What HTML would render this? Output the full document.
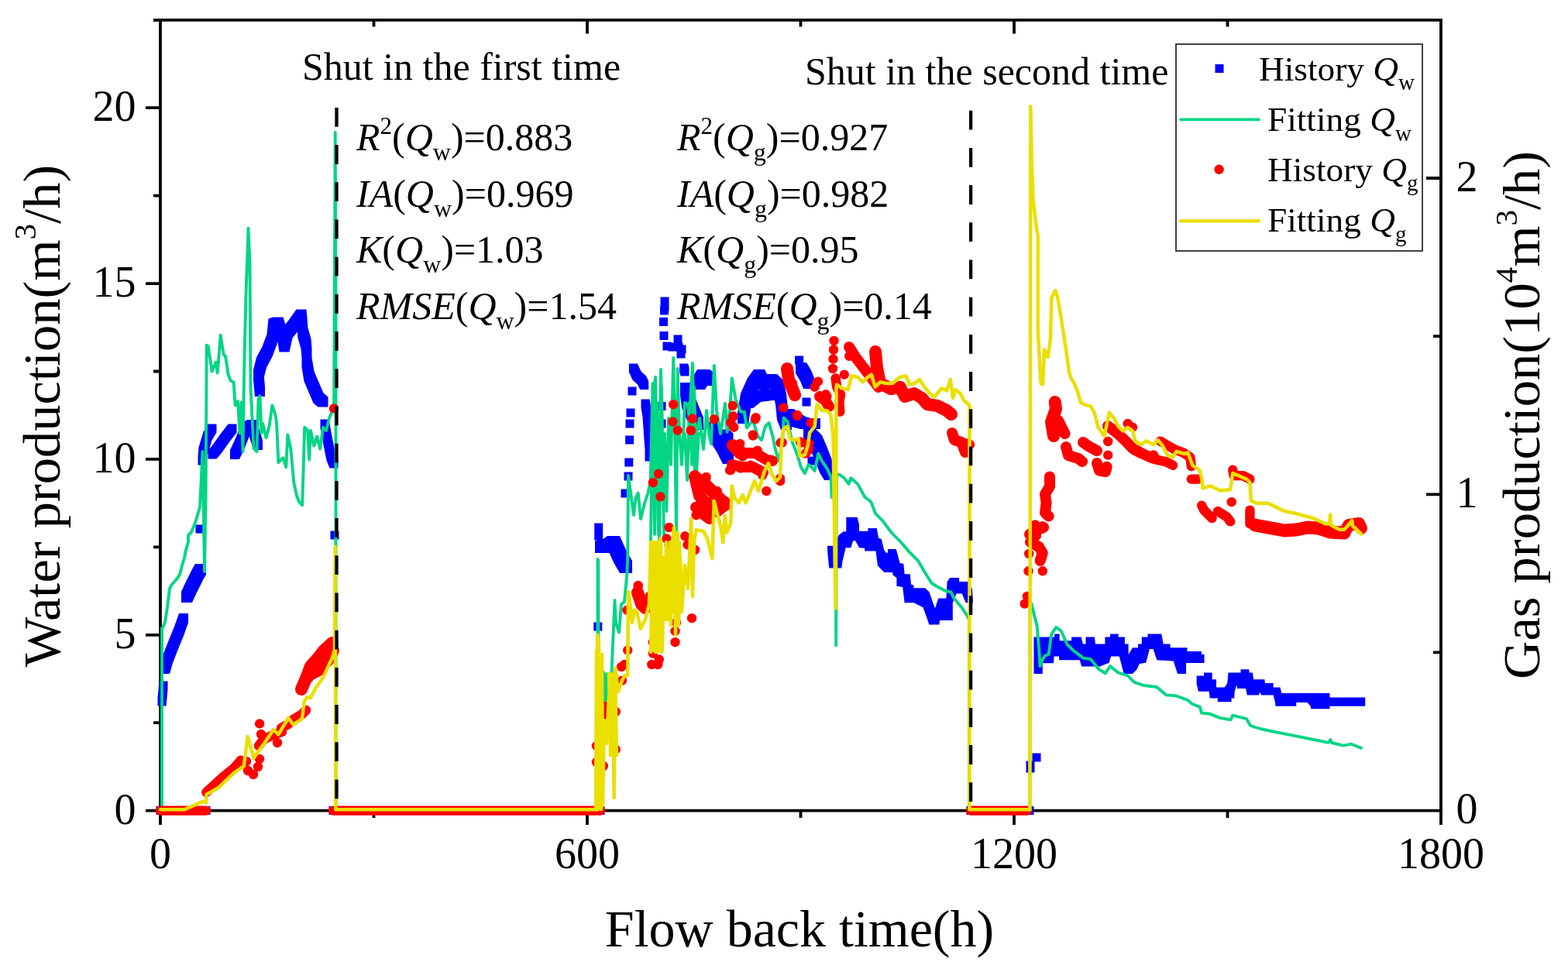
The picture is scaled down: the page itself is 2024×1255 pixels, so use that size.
<!DOCTYPE html>
<html><head><meta charset="utf-8"><title>Flow back chart</title>
<style>html,body{margin:0;padding:0;background:#fff;overflow:hidden}svg{display:block}</style>
</head><body>
<svg width="2024" height="1255" viewBox="0 0 2024 1255"><rect width="2024" height="1255" fill="#fff"/><path d="M198,25.8 H1860 V1046.6 H207 V25.8" fill="none" stroke="#000" stroke-width="3.8" stroke-linejoin="miter"/><path d="M188,1046.6 H207 M198,933.2 H207 M188,819.8 H207 M198,706.3 H207 M188,592.9 H207 M198,479.5 H207 M188,366.1 H207 M198,252.6 H207 M188,139.2 H207 M198,25.8 H207 M207.0,1046.6 V1065 M482.5,1046.6 V1056 M758.0,1046.6 V1065 M1033.5,1046.6 V1056 M1309.0,1046.6 V1065 M1584.5,1046.6 V1056 M1860.0,1046.6 V1065 M482.5,25.8 V34.5 M758.0,25.8 V43.4 M1033.5,25.8 V34.5 M1309.0,25.8 V43.4 M1584.5,25.8 V34.5 M1860,842.4 H1850 M1860,638.3 H1841 M1860,434.1 H1850 M1860,230.0 H1841" fill="none" stroke="#000" stroke-width="3.8"/><path fill="#0000ff" d="M201.5,1041.1 271.5,1041.1 271.5,1052.1 201.5,1052.1ZM424.5,1041.1 780.5,1041.1 780.5,1052.1 424.5,1052.1ZM1247.5,1041.1 1334.5,1041.1 1334.5,1052.1 1247.5,1052.1ZM203.5,900.5 205.5,879.5 216.5,879.5 216.5,890.5 214.5,911.5 203.5,911.5ZM207,858 211,844 223,844 223,856 219,870 207,870ZM211,844 218,826 230,826 230,838 223,856 211,856ZM218,826 225,809 237,809 237,821 230,838 218,838ZM225,809 231,792 243,792 243,804 237,821 225,821ZM234,764 239,753 253,753 253,767 248,778 234,778ZM239,753 244,743 258,743 258,757 253,767 239,767ZM244,743 249,733 263,733 263,747 258,757 244,757ZM249,733 252,728 266,728 266,742 263,747 249,747ZM255.5,589.5 256.5,577.5 267.5,577.5 267.5,588.5 266.5,600.5 255.5,600.5ZM256.5,577.5 262.5,557.5 273.5,557.5 273.5,568.5 267.5,588.5 256.5,588.5ZM262.5,557.5 268.5,547.5 279.5,547.5 279.5,558.5 273.5,568.5 262.5,568.5ZM268.5,581.5 274.5,574.5 285.5,574.5 285.5,585.5 279.5,592.5 268.5,592.5ZM274.5,574.5 284.5,560.5 295.5,560.5 295.5,571.5 285.5,585.5 274.5,585.5ZM284.5,560.5 294.5,547.5 305.5,547.5 305.5,558.5 295.5,571.5 284.5,571.5ZM297,581 304,566 316,566 316,578 309,593 297,593ZM304,566 312,546 324,546 324,558 316,578 304,578ZM312,546 319,542 331,542 331,554 324,558 312,558ZM319,542 331,542 339,569 339,581 327,581 319,554ZM327,477.5 340,477.5 342,499 342,512 329,512 327,490.5ZM327,477.5 331,461.5 344,461.5 344,474.5 340,490.5 327,490.5ZM331,461.5 338.5,447.5 351.5,447.5 351.5,460.5 344,474.5 331,474.5ZM338.5,447.5 344.5,431.5 357.5,431.5 357.5,444.5 351.5,460.5 338.5,460.5ZM344.5,431.5 346.5,411.5 359.5,411.5 359.5,424.5 357.5,444.5 344.5,444.5ZM346.5,411.5 352.5,409.5 365.5,409.5 365.5,422.5 359.5,424.5 346.5,424.5ZM352.5,409.5 365.5,409.5 371.5,429.5 371.5,442.5 358.5,442.5 352.5,422.5ZM358.5,429.5 371.5,429.5 373.5,441.5 373.5,454.5 360.5,454.5 358.5,442.5ZM360.5,441.5 364.5,423.5 377.5,423.5 377.5,436.5 373.5,454.5 360.5,454.5ZM364.5,423.5 372.5,413.5 385.5,413.5 385.5,426.5 377.5,436.5 364.5,436.5ZM372.5,413.5 382.5,399.5 395.5,399.5 395.5,412.5 385.5,426.5 372.5,426.5ZM382.5,399.5 395.5,399.5 397.5,423.5 397.5,436.5 384.5,436.5 382.5,412.5ZM384.5,423.5 397.5,423.5 401.5,437.5 401.5,450.5 388.5,450.5 384.5,436.5ZM388.5,437.5 401.5,437.5 402.5,449.5 402.5,462.5 389.5,462.5 388.5,450.5ZM389.5,449.5 402.5,449.5 402.5,474.5 389.5,474.5ZM389.5,461.5 402.5,461.5 405.5,479.5 405.5,492.5 392.5,492.5 389.5,474.5ZM392.5,479.5 405.5,479.5 411.5,493.5 411.5,506.5 398.5,506.5 392.5,492.5ZM398.5,493.5 411.5,493.5 417.5,507.5 417.5,520.5 404.5,520.5 398.5,506.5ZM404.5,507.5 417.5,507.5 423.5,512.5 423.5,525.5 410.5,525.5 404.5,520.5ZM413.5,541.5 424.5,541.5 428.5,563.5 428.5,574.5 417.5,574.5 413.5,552.5ZM417.5,563.5 428.5,563.5 432.5,583.5 432.5,594.5 421.5,594.5 417.5,574.5ZM421.5,583.5 432.5,583.5 436.5,593.5 436.5,604.5 425.5,604.5 421.5,594.5ZM767.2,675.5 778.2,675.5 778.2,697.5 767.2,697.5ZM768,698 777,697 793,697 793,713 784,714 768,714ZM777,697 784,692 800,692 800,708 793,713 777,713ZM784,692 800,692 808,710 808,726 792,726 784,708ZM792,710 808,710 816,724 816,740 800,740 792,726ZM811.9,469.5 822.9,469.5 827.5,479.5 827.5,490.5 816.5,490.5 811.9,480.5ZM816.5,479.5 827.5,479.5 834,485.5 834,496.5 823,496.5 816.5,490.5ZM823,485.5 834,485.5 837.2,492 837.2,503 826.2,503 823,496.5ZM827.5,515.5 838.5,515.5 840.5,527.5 840.5,538.5 829.5,538.5 827.5,526.5ZM829.5,527.5 840.5,527.5 842,550.5 842,561.5 831,561.5 829.5,538.5ZM831,550.5 842,550.5 843.5,569.5 843.5,580.5 832.5,580.5 831,561.5ZM832.5,569.5 843.5,569.5 843.5,595.5 832.5,595.5ZM877.2,469.5 888.2,469.5 889.5,474.5 889.5,485.5 878.5,485.5 877.2,480.5ZM894,487 900,477 916,477 916,493 910,503 894,503ZM900,477 916,477 923,482 923,498 907,498 900,493ZM878,494 894,494 896,510 896,526 880,526 878,510ZM880,510 896,510 903,527 903,543 887,543 880,526ZM887,527 903,527 908,539 908,555 892,555 887,543ZM913,545 927,545 932,558 932,572 918,572 913,559ZM918,558 932,558 940,571 940,585 926,585 918,572ZM926,571 940,571 947,585 947,599 933,599 926,585ZM929.5,554.5 940.5,554.5 946.5,559.5 946.5,570.5 935.5,570.5 929.5,565.5ZM952,533 956,508 970,508 970,522 966,547 952,547ZM956,508 965,488 979,488 979,502 970,522 956,522ZM965,488 973,477 987,477 987,491 979,502 965,502ZM973,477 987,477 993,489 993,503 979,503 973,491ZM979,489 989,483 1003,483 1003,497 993,503 979,503ZM989,483 1003,483 1011,491 1011,505 997,505 989,497ZM997,491 1011,491 1015,508 1015,522 1001,522 997,505ZM1001,508 1015,508 1017,528 1017,542 1003,542 1001,522ZM1003,528 1017,528 1022,541 1022,555 1008,555 1003,542ZM958,513 968,505 982,505 982,519 972,527 958,527ZM968,505 983,503 997,503 997,517 982,519 968,519ZM983,503 1007,503 1007,517 983,517ZM1027,468 1041,468 1047,478 1047,492 1033,492 1027,482ZM1033,478 1047,478 1051,488 1051,502 1037,502 1033,492ZM1011,528 1025,528 1036,537 1036,551 1022,551 1011,542ZM1022,537 1036,537 1047,540 1047,554 1033,554 1022,551ZM1033,540 1059,540 1059,554 1033,554ZM1005,528 1019,528 1032,533 1032,547 1018,547 1005,542ZM1018,533 1032,533 1040,538 1040,552 1026,552 1018,547ZM1037,554 1053,554 1061,562 1061,578 1045,578 1037,570ZM1045,562 1061,562 1067,576 1067,592 1051,592 1045,578ZM1051,576 1067,576 1074,594 1074,610 1058,610 1051,592ZM1058,594 1074,594 1080,604 1080,620 1064,620 1058,610ZM1334.5,822.5 1345.5,822.5 1345.5,867.5 1334.5,867.5ZM852.5,383.5 h11 v11 h-11ZM852.5,390.5 h11 v11 h-11ZM852,395.5 h11 v11 h-11ZM851,410 h11 v11 h-11ZM851.5,428 h11 v11 h-11ZM855.5,441.5 h11 v11 h-11ZM862.5,442.5 h11 v11 h-11ZM869.5,432.5 h11 v11 h-11ZM870.5,442.5 h11 v11 h-11ZM873.5,451.5 h11 v11 h-11ZM874.5,445.5 h11 v11 h-11ZM252.5,677.5 h11 v11 h-11ZM426.5,685.5 h11 v11 h-11ZM329.5,497.5 h11 v11 h-11ZM766.3,803.5 h11 v11 h-11ZM810.5,499.5 h11 v11 h-11ZM808.5,527.5 h11 v11 h-11ZM807.5,541.5 h11 v11 h-11ZM807.1,562.5 h11 v11 h-11ZM806.3,591.5 h11 v11 h-11ZM805.5,609.5 h11 v11 h-11ZM801.5,631.5 h11 v11 h-11ZM848.5,519.1 h11 v11 h-11ZM848.5,541.4 h11 v11 h-11ZM1026.1,459.5 h11 v11 h-11ZM1035.5,513.5 h11 v11 h-11ZM1042.5,589.5 h11 v11 h-11ZM1324.5,982.5 h11 v11 h-11ZM1332.5,972.5 h11 v11 h-11ZM1324.5,986.5 h11 v11 h-11ZM1094.5,669.1 h11 v11 h-11ZM1341,822.5 1361.2,822.5 1361.2,818.4 1367.7,818.4 1367.7,827.3 1383.1,827.3 1383.1,822.5 1395.6,822.5 1398,831.4 1401.5,831.4 1401.5,822.5 1412.8,822.5 1414,831.4 1426.4,831.4 1426.4,822.5 1433,822.5 1433,818.4 1443.6,818.4 1443.6,822.5 1451.9,822.5 1451.9,831.4 1456.6,831.4 1456.6,845 1462,836.2 1469,836.2 1469,831.4 1473.8,831.4 1473.8,822.5 1481.5,822.5 1481.5,818.4 1499.3,818.4 1501.7,831.4 1510.6,831.4 1510.6,836.2 1532.5,836.2 1532.5,841 1550.9,841 1550.9,845 1554.5,845 1554.5,855.7 1530.7,855.7 1530.7,870 1520,870 1514.7,853.4 1493.4,852.2 1488.6,838 1483.9,838 1479.2,855.7 1470.9,857 1467.3,864.6 1462,870 1450.7,870 1444.8,847.4 1434,847.4 1431.7,855.7 1419.9,860.5 1396.1,860.5 1393.8,852.2 1367.1,852.2 1367.1,847.4 1360.6,847.4 1360,856.3 1345.8,856.3 1345.8,870 1334.5,870 1334.5,845.7ZM1544.6,872.5 1554,872.5 1554,868.4 1564.7,868.4 1564.7,877.3 1570,877.3 1570,887.4 1580.7,887.4 1584.3,882 1585.5,868.4 1601.5,868.4 1601.5,864.2 1612.2,864.2 1612.8,868.4 1616.9,868.4 1618.1,877.3 1632.3,877.3 1633,882 1643.6,882 1643.6,887.4 1652.5,887.4 1654.3,895 1716.5,895 1716.5,900.4 1762.2,900.4 1762.2,911.7 1716.5,911.7 1716.5,915.2 1692.2,915.2 1691.6,911.7 1687.5,907 1673.2,907 1673.2,911.7 1646.5,911.7 1646,907 1643.6,897.4 1628.2,897.4 1625.8,893.3 1625.2,897.4 1609.8,897.4 1608,889 1597.3,889 1596.1,884.4 1593.8,892.7 1593.2,901.6 1589.6,901.6 1589.6,906.3 1571.8,906.3 1571.8,901.6 1561.8,901.6 1560.6,892.7 1546.9,892.7 1544.6,883.2ZM1525,850 1554.6,850 1554.6,856 1531,856 1531,869.6 1525,869.6ZM1067.8,704.8 1076.1,704.8 1082.7,691.1 1088.7,686.3 1092.3,686.3 1092.3,667.8 1106.6,667.8 1109,677.3 1109,685.7 1120.4,685.7 1120.4,682.1 1131.7,682.1 1134.1,694.7 1137.7,695.9 1141.3,710.2 1143.7,713.8 1146.1,713.8 1146.1,709 1156.8,709 1161.6,727 1166.4,728.1 1167.6,741.3 1174.8,741.3 1176,754.4 1179.5,755.6 1179.5,759.2 1193.9,759.2 1199.3,764 1203.5,776 1207,785.5 1211.2,772.4 1221.4,772.4 1222.6,750.9 1226.2,746.1 1238.1,746.1 1238.1,750.9 1250,750.9 1254.9,760.4 1256,778.3 1246.5,778.3 1241.7,766.4 1234.5,766.4 1229.8,778.3 1229.8,801 1213,801 1212.4,806.4 1199.3,806.4 1196.3,797.5 1191.5,784.3 1179.5,778.3 1167.6,778.3 1165.2,758 1157.4,756.8 1157.4,746.1 1152.6,742.5 1152,739 1141.3,739 1132.9,730.5 1130.5,711.4 1116.2,711.4 1116.2,707.8 1109,707.2 1104.2,698.3 1101.2,698.3 1098.3,707.2 1091.7,707.2 1087.5,724.6 1086.3,733.5 1070.2,733.5 1068.4,715Z"/><g fill="none" stroke="#03d585" stroke-width="3.9" stroke-linecap="round" stroke-linejoin="round"><polyline points="209,1046 209,811 210,810 213,803.6 216,783.7 219,759.8 221,755.8 228,747.8 232,741.8 235,730 238,720 240,710 243,700 243,691 247,687 252,675 258,655 261.5,583 264,738 265.7,630 266.7,445.7 268.7,447 273.7,479.6 278.7,467.6 280.7,481.6 284.7,432.8 288.6,457.7 291,460 294.6,483.6 297.6,491.5 301.6,493.5 303.6,523.4 307,518 309.6,559.3 311.6,519.4 313.5,583.2 315.5,459.7 317.5,380 320.5,294.8 322.5,340 323.5,499.5 327.5,579.2 331.5,583.2 333.5,515.5 335.5,511.5 337.5,559.3 339.4,547.3 343.4,565.3 347.4,551.3 351.4,523.4 355.4,535.4 357,545 359.4,597.1 365.3,591.2 369.3,603.1 371.3,561.3 375.3,579.2 379.3,623 383,640 386,648 390.2,652.3 393.2,551.7 397.2,555.7 399.2,593.5 401,556 405.2,575.6 409.2,563.7 413.1,579.6 417.1,551.7 421,556 425.1,539.8 429.1,529.8 431.1,525.8 432.7,170.8 433.5,400 433.5,1046"/><polyline points="771.5,1046 771.5,722 772.3,724 772.5,866 775,917 778,870 780.7,872 782,900 784,904 787,906 789,880 793.5,775 795,804 799,816.5 802,780 806,777 809.4,740 810.2,720 811,614 815.8,649 818,665 820.6,643 823.7,636.5 827,670 832,650 836.5,636.5 839.7,620.6 842,520 846,487 848,600 850,690 853,477 856,640 858,560 860.4,660 863,540 866,600 869.2,462 871,550 873,690 874.7,476 877,560 880,600 884,520 887.6,522 890,540 893.9,469 897,620 899,560 903,540 908,580 912,530 915,560 918,573 920,520 921.8,472 925,530 930,560 936,521 938.6,557.7 942,530 944.8,488.5 949.6,515.6 956,531.6 960.7,531.6 964,552.3 971.9,542.7 978.2,563.4 983,568.2 987.8,550.7 992.6,546 997.4,563.4 1000.6,579.4 1005.3,595.3 1010,571.4 1011.7,539.5 1016.5,544.3 1022.9,571.4 1029.2,587.3 1034,603.3 1038.8,611.2 1043.6,600.1 1046.6,602 1051.6,608 1056.3,585.7 1061,595.3 1067.5,604.9 1072.5,615.3 1073.5,642 1075,617 1078.5,612 1079.2,833.4 1079.8,612 1085,613.6 1089.7,617.2 1095.5,624.9 1098.4,617.2 1107,624.9 1116.5,642 1124.2,647.8 1130,663 1139.5,672.7 1151,688 1162.4,699.5 1174,712.9 1185.4,724.4 1193,737.7 1202.6,753 1212.2,758.8 1219.8,762.6 1227.5,764.5 1231.3,772.2 1240.9,783.7 1248.5,795.1 1251,800 1251,1046"/><polyline points="776,866 777,915 779,868 781,912 783,870 785,915 787,872 789,910"/><polyline points="840,700 842.5,495 845,690 848,520 851,700 854,500 857,690"/><polyline points="884,560 887,620 890,520 893,600 896,500 899,610 902,560"/><polyline points="1329.5,1046 1329.5,779 1331.4,779.5 1334.6,792.3 1338.6,808.2 1341,835.3 1342.6,860 1345.8,851.2 1349,846.5 1353.7,844.9 1357,819.4 1360.1,814.6 1363.3,809.8 1369.7,814.6 1377.6,832 1385.6,840 1392,844.9 1398.4,849.6 1408,851.2 1418.5,864.2 1426.8,869.4 1433,860 1443.3,868.4 1455.8,872.5 1464,880.8 1476.5,885 1493,887 1505.5,897.4 1518,898.4 1532.4,903.6 1539,909 1549,912.9 1551,920.5 1561.9,921.8 1574.6,926.9 1588.6,929.4 1591.2,923.7 1609,928.2 1614.1,937 1626.9,941 1638.4,943.5 1657.5,947.3 1676.6,951.1 1695.7,955 1714.9,958.8 1717.4,955 1719,959 1734,962.6 1744.2,960.7 1757,965.8"/></g><g fill="none" stroke="#ff0000" stroke-linecap="round" stroke-linejoin="round"><polyline stroke-width="12.4" points="207,1046.6 266,1046.6"/><polyline stroke-width="12.4" points="266.3,1023 276.5,1013.5 289.2,1002 302,991.8 310.9,981.6"/><polyline stroke-width="12.4" points="334,963 340,955 350,950 364,945"/><polyline stroke-width="12.4" points="363,940 372,935 380,928 390,922 395,917"/><polyline stroke-width="16" points="389,890 395,876 401,860 410,850 418,840 429,830"/><polyline stroke-width="14" points="392,882 400,872 412,866 425,852 431,840"/><polyline stroke-width="12.4" points="430,1046.6 775,1046.6"/><polyline stroke-width="12.4" points="1253,1046.6 1326,1046.6"/><polyline stroke-width="12.4" points="780,912 785,925 786,940"/><polyline stroke-width="14" points="779,916 789,914 788,938"/><polyline stroke-width="16" points="823,765 828,780 833,785"/><polyline stroke-width="16" points="946,575 955,585"/><polyline stroke-width="16" points="1016,476 1018,490 1022,500 1026,510"/><polyline stroke-width="14" points="1058,512 1066,518 1070,525"/><polyline stroke-width="16" points="900,618 910,625 920,635 930,645 937,650"/><polyline stroke-width="14" points="898,655 905,662 916,670"/><polyline stroke-width="16" points="897,615 903,640 912,652 925,660 935,652"/><polyline stroke-width="14" points="1096,448 1105,462 1115,475 1125,488 1134,500"/><polyline stroke-width="16" points="1130,454 1132,475 1136,495 1150,502 1162,500 1168,512 1180,508 1190,514 1197,522 1210,524 1222,530 1228,535"/><polyline stroke-width="14" points="1229,559 1232,568 1241,571 1246,584"/><polyline stroke-width="12.4" points="1241,571 1252,574"/><polyline stroke-width="12.4" points="1078.6,488.5 1080.2,499.7 1085,509.2 1083.4,518.8 1084.2,531.6"/><polyline stroke-width="14" points="950,578 960,585 975,585 990,594 997,595"/><polyline stroke-width="14" points="945,600 958,603 972,603 985,610"/><polyline stroke-width="16" points="1361.7,519 1363,528 1357,545 1360,563"/><polyline stroke-width="14" points="1366,543 1374.5,560"/><polyline stroke-width="14" points="1376,577 1379,588 1392,592 1397,596"/><polyline stroke-width="14" points="1398,571 1405,576 1416,582"/><polyline stroke-width="14" points="1416,598 1419,607.5 1427,609 1428.6,602.7"/><polyline stroke-width="14" points="1430,550 1443,560 1452.5,569 1462,579 1473,585 1484,590 1490,592"/><polyline stroke-width="14" points="1355,615.5 1355,628 1349,638 1350.6,649 1349,662 1353.7,666.5"/><polyline stroke-width="14" points="1329,690 1337,685 1347,681"/><polyline stroke-width="14" points="1330,700 1341,706 1345.8,714 1342.6,724"/><polyline stroke-width="12.4" points="1488.9,587.4 1491.9,593.4 1505.2,596.3 1514,600.8"/><polyline stroke-width="12.4" points="1497.8,569.6 1515.6,580 1527.4,584.5 1536.3,590.4 1537.8,602.2"/><polyline stroke-width="12.4" points="1537.8,618.6 1546.7,618.6"/><polyline stroke-width="12.4" points="1591.2,606.7 1592.6,614.1 1604.5,614.1 1613.4,618.6"/><polyline stroke-width="12.4" points="1551.1,652.6 1554.1,658.6 1564.5,669"/><polyline stroke-width="12.4" points="1571.9,660 1583.7,667.5 1588.2,673.4"/><polyline stroke-width="12.4" points="1613.4,658.6 1613.4,676.4"/><polyline stroke-width="17" points="1620,678 1636,681 1658,685 1673,684 1688,681 1702,682 1717,687 1735,688"/><polyline stroke-width="16" points="1735,688 1741,678 1754,676 1757,682"/></g><path fill="#ff0000" d="M1070.3,440 a6.2,6.2 0 1,0 12.4,0a6.2,6.2 0 1,0 -12.4,0ZM1069.8,451.5 a6.2,6.2 0 1,0 12.4,0a6.2,6.2 0 1,0 -12.4,0ZM1069.3,463.5 a6.2,6.2 0 1,0 12.4,0a6.2,6.2 0 1,0 -12.4,0ZM1068.8,476 a6.2,6.2 0 1,0 12.4,0a6.2,6.2 0 1,0 -12.4,0ZM298.8,990 a6.2,6.2 0 1,0 12.4,0a6.2,6.2 0 1,0 -12.4,0ZM305.8,985 a6.2,6.2 0 1,0 12.4,0a6.2,6.2 0 1,0 -12.4,0ZM313.8,995 a6.2,6.2 0 1,0 12.4,0a6.2,6.2 0 1,0 -12.4,0ZM320.8,1000 a6.2,6.2 0 1,0 12.4,0a6.2,6.2 0 1,0 -12.4,0ZM326.8,990 a6.2,6.2 0 1,0 12.4,0a6.2,6.2 0 1,0 -12.4,0ZM328.8,980 a6.2,6.2 0 1,0 12.4,0a6.2,6.2 0 1,0 -12.4,0ZM311.8,983 a6.2,6.2 0 1,0 12.4,0a6.2,6.2 0 1,0 -12.4,0ZM328.9,934.4 a6.2,6.2 0 1,0 12.4,0a6.2,6.2 0 1,0 -12.4,0ZM330.8,948 a6.2,6.2 0 1,0 12.4,0a6.2,6.2 0 1,0 -12.4,0ZM351.8,959 a6.2,6.2 0 1,0 12.4,0a6.2,6.2 0 1,0 -12.4,0ZM392.8,875 a6.2,6.2 0 1,0 12.4,0a6.2,6.2 0 1,0 -12.4,0ZM404.8,859 a6.2,6.2 0 1,0 12.4,0a6.2,6.2 0 1,0 -12.4,0ZM424.8,527.4 a6.2,6.2 0 1,0 12.4,0a6.2,6.2 0 1,0 -12.4,0ZM763.8,963 a6.2,6.2 0 1,0 12.4,0a6.2,6.2 0 1,0 -12.4,0ZM763.8,984 a6.2,6.2 0 1,0 12.4,0a6.2,6.2 0 1,0 -12.4,0ZM772.7,989 a6.2,6.2 0 1,0 12.4,0a6.2,6.2 0 1,0 -12.4,0ZM788.6,967.6 a6.2,6.2 0 1,0 12.4,0a6.2,6.2 0 1,0 -12.4,0ZM788.6,919 a6.2,6.2 0 1,0 12.4,0a6.2,6.2 0 1,0 -12.4,0ZM777.7,915.3 a6.2,6.2 0 1,0 12.4,0a6.2,6.2 0 1,0 -12.4,0ZM785.7,920 a6.2,6.2 0 1,0 12.4,0a6.2,6.2 0 1,0 -12.4,0ZM774.5,921.7 a6.2,6.2 0 1,0 12.4,0a6.2,6.2 0 1,0 -12.4,0ZM785.7,873.9 a6.2,6.2 0 1,0 12.4,0a6.2,6.2 0 1,0 -12.4,0ZM785.7,889.8 a6.2,6.2 0 1,0 12.4,0a6.2,6.2 0 1,0 -12.4,0ZM796.8,878.6 a6.2,6.2 0 1,0 12.4,0a6.2,6.2 0 1,0 -12.4,0ZM796,861 a6.2,6.2 0 1,0 12.4,0a6.2,6.2 0 1,0 -12.4,0ZM800,858 a6.2,6.2 0 1,0 12.4,0a6.2,6.2 0 1,0 -12.4,0ZM804,839.6 a6.2,6.2 0 1,0 12.4,0a6.2,6.2 0 1,0 -12.4,0ZM817.5,757.5 a6.2,6.2 0 1,0 12.4,0a6.2,6.2 0 1,0 -12.4,0ZM803.2,787.8 a6.2,6.2 0 1,0 12.4,0a6.2,6.2 0 1,0 -12.4,0ZM831.8,770.3 a6.2,6.2 0 1,0 12.4,0a6.2,6.2 0 1,0 -12.4,0ZM836.7,829.2 a6.2,6.2 0 1,0 12.4,0a6.2,6.2 0 1,0 -12.4,0ZM836.7,843.6 a6.2,6.2 0 1,0 12.4,0a6.2,6.2 0 1,0 -12.4,0ZM835.1,858 a6.2,6.2 0 1,0 12.4,0a6.2,6.2 0 1,0 -12.4,0ZM844.6,851.5 a6.2,6.2 0 1,0 12.4,0a6.2,6.2 0 1,0 -12.4,0ZM843,858 a6.2,6.2 0 1,0 12.4,0a6.2,6.2 0 1,0 -12.4,0ZM865.3,781.4 a6.2,6.2 0 1,0 12.4,0a6.2,6.2 0 1,0 -12.4,0ZM866.9,803.7 a6.2,6.2 0 1,0 12.4,0a6.2,6.2 0 1,0 -12.4,0ZM865.3,814.9 a6.2,6.2 0 1,0 12.4,0a6.2,6.2 0 1,0 -12.4,0ZM865.3,829.2 a6.2,6.2 0 1,0 12.4,0a6.2,6.2 0 1,0 -12.4,0ZM886.8,798.2 a6.2,6.2 0 1,0 12.4,0a6.2,6.2 0 1,0 -12.4,0ZM851,741.6 a6.2,6.2 0 1,0 12.4,0a6.2,6.2 0 1,0 -12.4,0ZM843.8,611.8 a6.2,6.2 0 1,0 12.4,0a6.2,6.2 0 1,0 -12.4,0ZM836.7,623 a6.2,6.2 0 1,0 12.4,0a6.2,6.2 0 1,0 -12.4,0ZM846.2,641.3 a6.2,6.2 0 1,0 12.4,0a6.2,6.2 0 1,0 -12.4,0ZM894,617.4 a6.2,6.2 0 1,0 12.4,0a6.2,6.2 0 1,0 -12.4,0ZM905.2,617.4 a6.2,6.2 0 1,0 12.4,0a6.2,6.2 0 1,0 -12.4,0ZM897.2,628.5 a6.2,6.2 0 1,0 12.4,0a6.2,6.2 0 1,0 -12.4,0ZM919.5,635 a6.2,6.2 0 1,0 12.4,0a6.2,6.2 0 1,0 -12.4,0ZM906.8,647.6 a6.2,6.2 0 1,0 12.4,0a6.2,6.2 0 1,0 -12.4,0ZM892.4,654 a6.2,6.2 0 1,0 12.4,0a6.2,6.2 0 1,0 -12.4,0ZM892.4,665.2 a6.2,6.2 0 1,0 12.4,0a6.2,6.2 0 1,0 -12.4,0ZM910,670 a6.2,6.2 0 1,0 12.4,0a6.2,6.2 0 1,0 -12.4,0ZM933.8,652.4 a6.2,6.2 0 1,0 12.4,0a6.2,6.2 0 1,0 -12.4,0ZM921.1,642.9 a6.2,6.2 0 1,0 12.4,0a6.2,6.2 0 1,0 -12.4,0ZM937.1,607 a6.2,6.2 0 1,0 12.4,0a6.2,6.2 0 1,0 -12.4,0ZM949.8,604.6 a6.2,6.2 0 1,0 12.4,0a6.2,6.2 0 1,0 -12.4,0ZM857.4,681 a6.2,6.2 0 1,0 12.4,0a6.2,6.2 0 1,0 -12.4,0ZM854.2,695.5 a6.2,6.2 0 1,0 12.4,0a6.2,6.2 0 1,0 -12.4,0ZM857.4,703.4 a6.2,6.2 0 1,0 12.4,0a6.2,6.2 0 1,0 -12.4,0ZM878.1,692.3 a6.2,6.2 0 1,0 12.4,0a6.2,6.2 0 1,0 -12.4,0ZM881.3,703.4 a6.2,6.2 0 1,0 12.4,0a6.2,6.2 0 1,0 -12.4,0ZM890.8,710 a6.2,6.2 0 1,0 12.4,0a6.2,6.2 0 1,0 -12.4,0ZM857.4,727.3 a6.2,6.2 0 1,0 12.4,0a6.2,6.2 0 1,0 -12.4,0ZM849.4,737 a6.2,6.2 0 1,0 12.4,0a6.2,6.2 0 1,0 -12.4,0ZM817.5,756 a6.2,6.2 0 1,0 12.4,0a6.2,6.2 0 1,0 -12.4,0ZM863,522.2 a6.2,6.2 0 1,0 12.4,0a6.2,6.2 0 1,0 -12.4,0ZM862.2,544.5 a6.2,6.2 0 1,0 12.4,0a6.2,6.2 0 1,0 -12.4,0ZM868.5,555.7 a6.2,6.2 0 1,0 12.4,0a6.2,6.2 0 1,0 -12.4,0ZM887.7,540.5 a6.2,6.2 0 1,0 12.4,0a6.2,6.2 0 1,0 -12.4,0ZM885.3,555.7 a6.2,6.2 0 1,0 12.4,0a6.2,6.2 0 1,0 -12.4,0ZM915.6,541.3 a6.2,6.2 0 1,0 12.4,0a6.2,6.2 0 1,0 -12.4,0ZM939.5,523.8 a6.2,6.2 0 1,0 12.4,0a6.2,6.2 0 1,0 -12.4,0ZM940.3,537.3 a6.2,6.2 0 1,0 12.4,0a6.2,6.2 0 1,0 -12.4,0ZM937.1,545.3 a6.2,6.2 0 1,0 12.4,0a6.2,6.2 0 1,0 -12.4,0ZM941.1,551.7 a6.2,6.2 0 1,0 12.4,0a6.2,6.2 0 1,0 -12.4,0ZM885.8,555.8 a6.2,6.2 0 1,0 12.4,0a6.2,6.2 0 1,0 -12.4,0ZM969.4,539.2 a6.2,6.2 0 1,0 12.4,0a6.2,6.2 0 1,0 -12.4,0ZM965.6,561.5 a6.2,6.2 0 1,0 12.4,0a6.2,6.2 0 1,0 -12.4,0ZM949,573 a6.2,6.2 0 1,0 12.4,0a6.2,6.2 0 1,0 -12.4,0ZM1010.8,476 a6.2,6.2 0 1,0 12.4,0a6.2,6.2 0 1,0 -12.4,0ZM1010.2,487.6 a6.2,6.2 0 1,0 12.4,0a6.2,6.2 0 1,0 -12.4,0ZM1011.5,496.5 a6.2,6.2 0 1,0 12.4,0a6.2,6.2 0 1,0 -12.4,0ZM1020.4,506.7 a6.2,6.2 0 1,0 12.4,0a6.2,6.2 0 1,0 -12.4,0ZM1019.1,511.8 a6.2,6.2 0 1,0 12.4,0a6.2,6.2 0 1,0 -12.4,0ZM1005.1,526.4 a6.2,6.2 0 1,0 12.4,0a6.2,6.2 0 1,0 -12.4,0ZM1022.8,536 a6.2,6.2 0 1,0 12.4,0a6.2,6.2 0 1,0 -12.4,0ZM1049.8,492.7 a6.2,6.2 0 1,0 12.4,0a6.2,6.2 0 1,0 -12.4,0ZM1052.3,511.8 a6.2,6.2 0 1,0 12.4,0a6.2,6.2 0 1,0 -12.4,0ZM1061.2,511.8 a6.2,6.2 0 1,0 12.4,0a6.2,6.2 0 1,0 -12.4,0ZM1042.1,546.2 a6.2,6.2 0 1,0 12.4,0a6.2,6.2 0 1,0 -12.4,0ZM1001.3,571.7 a6.2,6.2 0 1,0 12.4,0a6.2,6.2 0 1,0 -12.4,0ZM1026.8,570.4 a6.2,6.2 0 1,0 12.4,0a6.2,6.2 0 1,0 -12.4,0ZM1038.2,573 a6.2,6.2 0 1,0 12.4,0a6.2,6.2 0 1,0 -12.4,0ZM1123.4,453.5 a6.2,6.2 0 1,0 12.4,0a6.2,6.2 0 1,0 -12.4,0ZM1090,459.8 a6.2,6.2 0 1,0 12.4,0a6.2,6.2 0 1,0 -12.4,0ZM1083.6,483.7 a6.2,6.2 0 1,0 12.4,0a6.2,6.2 0 1,0 -12.4,0ZM1048.5,493.3 a6.2,6.2 0 1,0 12.4,0a6.2,6.2 0 1,0 -12.4,0ZM1045.4,499.7 a6.2,6.2 0 1,0 12.4,0a6.2,6.2 0 1,0 -12.4,0ZM1059.7,509.2 a6.2,6.2 0 1,0 12.4,0a6.2,6.2 0 1,0 -12.4,0ZM1061.3,520.4 a6.2,6.2 0 1,0 12.4,0a6.2,6.2 0 1,0 -12.4,0ZM1064.5,525.2 a6.2,6.2 0 1,0 12.4,0a6.2,6.2 0 1,0 -12.4,0ZM1023,537.1 a6.2,6.2 0 1,0 12.4,0a6.2,6.2 0 1,0 -12.4,0ZM1040.6,545.9 a6.2,6.2 0 1,0 12.4,0a6.2,6.2 0 1,0 -12.4,0ZM968.8,541 a6.2,6.2 0 1,0 12.4,0a6.2,6.2 0 1,0 -12.4,0ZM940.2,538 a6.2,6.2 0 1,0 12.4,0a6.2,6.2 0 1,0 -12.4,0ZM940.2,550.7 a6.2,6.2 0 1,0 12.4,0a6.2,6.2 0 1,0 -12.4,0ZM1002.3,571.4 a6.2,6.2 0 1,0 12.4,0a6.2,6.2 0 1,0 -12.4,0ZM1029.4,571.4 a6.2,6.2 0 1,0 12.4,0a6.2,6.2 0 1,0 -12.4,0ZM1037.4,581 a6.2,6.2 0 1,0 12.4,0a6.2,6.2 0 1,0 -12.4,0ZM1016.7,495 a6.2,6.2 0 1,0 12.4,0a6.2,6.2 0 1,0 -12.4,0ZM1018.3,509.2 a6.2,6.2 0 1,0 12.4,0a6.2,6.2 0 1,0 -12.4,0ZM1000.8,617.6 a6.2,6.2 0 1,0 12.4,0a6.2,6.2 0 1,0 -12.4,0ZM937,606.5 a6.2,6.2 0 1,0 12.4,0a6.2,6.2 0 1,0 -12.4,0ZM949.8,603.3 a6.2,6.2 0 1,0 12.4,0a6.2,6.2 0 1,0 -12.4,0ZM962.7,600.8 a6.2,6.2 0 1,0 12.4,0a6.2,6.2 0 1,0 -12.4,0ZM935.8,607.2 a6.2,6.2 0 1,0 12.4,0a6.2,6.2 0 1,0 -12.4,0ZM975.4,608.5 a6.2,6.2 0 1,0 12.4,0a6.2,6.2 0 1,0 -12.4,0ZM965.8,562.6 a6.2,6.2 0 1,0 12.4,0a6.2,6.2 0 1,0 -12.4,0ZM1003.5,571.5 a6.2,6.2 0 1,0 12.4,0a6.2,6.2 0 1,0 -12.4,0ZM1027.7,571.5 a6.2,6.2 0 1,0 12.4,0a6.2,6.2 0 1,0 -12.4,0ZM1037.8,579 a6.2,6.2 0 1,0 12.4,0a6.2,6.2 0 1,0 -12.4,0ZM1033.8,585.5 a6.2,6.2 0 1,0 12.4,0a6.2,6.2 0 1,0 -12.4,0ZM978,613.6 a6.2,6.2 0 1,0 12.4,0a6.2,6.2 0 1,0 -12.4,0ZM983.1,634 a6.2,6.2 0 1,0 12.4,0a6.2,6.2 0 1,0 -12.4,0ZM1000.8,621.2 a6.2,6.2 0 1,0 12.4,0a6.2,6.2 0 1,0 -12.4,0ZM905.3,616 a6.2,6.2 0 1,0 12.4,0a6.2,6.2 0 1,0 -12.4,0ZM901.5,623.8 a6.2,6.2 0 1,0 12.4,0a6.2,6.2 0 1,0 -12.4,0ZM919.3,634 a6.2,6.2 0 1,0 12.4,0a6.2,6.2 0 1,0 -12.4,0ZM906.6,648 a6.2,6.2 0 1,0 12.4,0a6.2,6.2 0 1,0 -12.4,0ZM923.1,641.6 a6.2,6.2 0 1,0 12.4,0a6.2,6.2 0 1,0 -12.4,0ZM930.8,649.3 a6.2,6.2 0 1,0 12.4,0a6.2,6.2 0 1,0 -12.4,0ZM910.4,669.7 a6.2,6.2 0 1,0 12.4,0a6.2,6.2 0 1,0 -12.4,0ZM895.1,655.6 a6.2,6.2 0 1,0 12.4,0a6.2,6.2 0 1,0 -12.4,0ZM947.4,576.6 a6.2,6.2 0 1,0 12.4,0a6.2,6.2 0 1,0 -12.4,0ZM952.5,589.3 a6.2,6.2 0 1,0 12.4,0a6.2,6.2 0 1,0 -12.4,0ZM971.6,581.7 a6.2,6.2 0 1,0 12.4,0a6.2,6.2 0 1,0 -12.4,0ZM1344.4,664.8 a6.2,6.2 0 1,0 12.4,0a6.2,6.2 0 1,0 -12.4,0ZM1330,677.5 a6.2,6.2 0 1,0 12.4,0a6.2,6.2 0 1,0 -12.4,0ZM1341.2,680.7 a6.2,6.2 0 1,0 12.4,0a6.2,6.2 0 1,0 -12.4,0ZM1323.6,690.3 a6.2,6.2 0 1,0 12.4,0a6.2,6.2 0 1,0 -12.4,0ZM1331.6,691.9 a6.2,6.2 0 1,0 12.4,0a6.2,6.2 0 1,0 -12.4,0ZM1323.6,699.8 a6.2,6.2 0 1,0 12.4,0a6.2,6.2 0 1,0 -12.4,0ZM1322,715 a6.2,6.2 0 1,0 12.4,0a6.2,6.2 0 1,0 -12.4,0ZM1321.3,737.3 a6.2,6.2 0 1,0 12.4,0a6.2,6.2 0 1,0 -12.4,0ZM1339.6,737.3 a6.2,6.2 0 1,0 12.4,0a6.2,6.2 0 1,0 -12.4,0ZM1319.7,770 a6.2,6.2 0 1,0 12.4,0a6.2,6.2 0 1,0 -12.4,0ZM1316.5,779.5 a6.2,6.2 0 1,0 12.4,0a6.2,6.2 0 1,0 -12.4,0ZM1424,570 a6.2,6.2 0 1,0 12.4,0a6.2,6.2 0 1,0 -12.4,0ZM1424,587.6 a6.2,6.2 0 1,0 12.4,0a6.2,6.2 0 1,0 -12.4,0ZM1449.5,547 a6.2,6.2 0 1,0 12.4,0a6.2,6.2 0 1,0 -12.4,0ZM1455.8,551.7 a6.2,6.2 0 1,0 12.4,0a6.2,6.2 0 1,0 -12.4,0ZM1330,677.6 a6.2,6.2 0 1,0 12.4,0a6.2,6.2 0 1,0 -12.4,0ZM1339.6,679.2 a6.2,6.2 0 1,0 12.4,0a6.2,6.2 0 1,0 -12.4,0ZM1583.5,648.2 a6.2,6.2 0 1,0 12.4,0a6.2,6.2 0 1,0 -12.4,0ZM1478.2,590 a6.2,6.2 0 1,0 12.4,0a6.2,6.2 0 1,0 -12.4,0Z"/><g fill="none" stroke="#eadf00" stroke-width="4.5" stroke-linecap="round" stroke-linejoin="round"><polyline points="207,1045.3 238.2,1045.3 261.2,1035 266.3,1036.4 266.3,1026 281.6,1017.3 302,998 314.7,989.2 319.8,951 327.5,979 332.6,971.4 340.2,961.2 353,942 359.4,948.4 372.1,926.8 378.5,935.7 390,928 392.5,906.4 396.3,900 401,901 407,889 417,875 429,849 432,839 432.7,706 433.3,1045.3 771,1045.3"/><polyline points="771,1045.3 771,819.7 773,830 775,1040 777,845 778,1040 780,930 783,960 786,900 789,975 791,880 792.6,1030 794.3,862.7 798,893 803,878.6 806.2,872.3 810.2,872.3 811,764 813,775 815.8,803.7 819,787.8 822,790 827,811.7 833.3,799 838,779.8 840,700 842,840 845,700 848,842 850,720 852.4,695.5 854,842 856,720 858,800 860,700 862,800 864,720 866,807 868,700 870,681 872,820 874.7,687.5 876,807 878,720 880,790 884,730 888,760 892.3,670 894,770 896,700 898.6,684.3 900,684.3 908.2,686 913,695.5 919.4,721 921.7,646.7 925.5,662 930.6,681 933.2,700.3 935.7,665.8 938.3,687.5 943.4,674.8 944.6,627.6 948.5,642.9 953.6,649.3 958.7,639 962.5,649.3 968.9,634 974,621.2 979,634 986.7,608.5 991.8,598.3 997,613.6 1002,621.2 1007,616 1008.4,579 1011,555 1012.5,552.3 1016.5,550.7 1019.7,566.6 1024.5,568.2 1030.8,566.6 1032.4,589 1038.8,587.3 1042.8,575.3 1045.2,558.6 1051.6,550.7 1054.7,522 1061,530 1067,530 1072.3,534.7 1075.5,563.4 1078.5,785.6 1079.5,500 1080.2,496.5 1086.6,501.3 1094.6,502.9 1099.4,485.3 1107.3,487 1113.7,493.3 1120,487 1124.9,483.7 1129.6,499.7 1136,493.3 1144,495 1152,495 1161.4,487 1169.4,485.4 1174.2,496.5 1180.6,495 1187,490 1193.3,499.7 1199.7,507.7 1206,512.5 1215.6,501.3 1222,504.5 1226.8,490 1230,514 1233.2,503 1239.6,507.7 1244.3,517.2 1250.7,522 1251.5,525.2 1251.5,1045.3 1329.4,1045.3"/><polyline points="769,1045 770,840 772,1045 774,845 776,1045"/><polyline points="786,870 788,975 790,870 792,960 794,870 796,975"/><polyline points="840,842 843,700 846,842 849,700 851,840 853,700 855,840 857,720"/><polyline points="862,760 865,700 868,790 871,690 874,800 877,700 880,780"/><polyline points="1329.4,1045.3 1330.3,137.5 1331.9,215.6 1333.5,257 1336.7,285.7 1339.8,305 1339.8,426 1343,486.5 1344,496 1346.2,496 1347.8,451.5 1352.6,461 1355.8,438.7 1357.4,384.5 1362.2,375 1365.3,384.5 1370.1,413.2 1376.5,454.7 1380,480 1382.9,489.7 1385.6,492.7 1390.4,504 1395.2,520 1401.6,523 1408,524.6 1412.7,532.6 1417.5,551.7 1425.5,562.9 1431.8,532.6 1438.2,540.6 1443,550 1449.4,556.5 1455.7,551.7 1462.1,556.5 1465.3,569.2 1473.3,574 1479.6,569.2 1488.9,574.1 1494.8,568.2 1500.7,575.6 1506.7,587.4 1514,590.4 1518.5,583 1528.9,586 1533.4,584.5 1539.3,600.8 1548.2,606.7 1551.1,617 1552.6,630.4 1563,627.4 1574.9,633.4 1588.2,631.9 1591.2,611.1 1598.6,614.1 1609,618.6 1613.4,623 1614.9,646.7 1622.3,649.7 1637,649.7 1643,652.6 1657.9,660 1672.7,663 1694.9,669 1711.2,676.4 1716,676 1717.1,664.5 1718,678 1729,683.8 1735,683.8 1739.4,679.3 1745.3,671.9 1746,679 1757.2,689.7"/></g><line x1="434.5" y1="138.9" x2="434.5" y2="1046" stroke="#000" stroke-width="4.3" stroke-dasharray="24.8 23.4"/><line x1="1253.1" y1="142.7" x2="1253.1" y2="1046" stroke="#000" stroke-width="4.3" stroke-dasharray="24.8 23.4"/><text x="175.5" y="1063.6" text-anchor="end" font-family="'Liberation Serif', 'Times New Roman', serif" font-size="56">0</text><text x="175.5" y="836.8" text-anchor="end" font-family="'Liberation Serif', 'Times New Roman', serif" font-size="56">5</text><text x="175.5" y="609.9" text-anchor="end" font-family="'Liberation Serif', 'Times New Roman', serif" font-size="56">10</text><text x="175.5" y="383.1" text-anchor="end" font-family="'Liberation Serif', 'Times New Roman', serif" font-size="56">15</text><text x="175.5" y="156.2" text-anchor="end" font-family="'Liberation Serif', 'Times New Roman', serif" font-size="56">20</text><text x="207.0" y="1121" text-anchor="middle" font-family="'Liberation Serif', 'Times New Roman', serif" font-size="56">0</text><text x="758.0" y="1121" text-anchor="middle" font-family="'Liberation Serif', 'Times New Roman', serif" font-size="56">600</text><text x="1309.0" y="1121" text-anchor="middle" font-family="'Liberation Serif', 'Times New Roman', serif" font-size="56">1200</text><text x="1860.0" y="1121" text-anchor="middle" font-family="'Liberation Serif', 'Times New Roman', serif" font-size="56">1800</text><text x="1879.5" y="1063.1" font-family="'Liberation Serif', 'Times New Roman', serif" font-size="56">0</text><text x="1879.5" y="654.8" font-family="'Liberation Serif', 'Times New Roman', serif" font-size="56">1</text><text x="1879.5" y="246.5" font-family="'Liberation Serif', 'Times New Roman', serif" font-size="56">2</text><text x="1032" y="1222" text-anchor="middle" font-family="'Liberation Serif', 'Times New Roman', serif" font-size="68">Flow back time(h)</text><text transform="translate(77,537) rotate(-90)" text-anchor="middle" font-family="'Liberation Serif', 'Times New Roman', serif" font-size="68.5">Water production(m<tspan font-size="41" dy="-31">3</tspan><tspan dy="31">/h)</tspan></text><text transform="translate(1987,536) rotate(-90)" text-anchor="middle" font-family="'Liberation Serif', 'Times New Roman', serif" font-size="68.5">Gas production(10<tspan font-size="41" dy="-29">4</tspan><tspan dy="29">m</tspan><tspan font-size="41" dy="-29">3</tspan><tspan dy="29">/h)</tspan></text><text x="390" y="103" font-family="'Liberation Serif', 'Times New Roman', serif" font-size="50">Shut in the first time</text><text x="1039" y="108.7" font-family="'Liberation Serif', 'Times New Roman', serif" font-size="50">Shut in the second time</text><text x="460.0" y="194.0" font-family="'Liberation Serif', 'Times New Roman', serif" font-size="50"><tspan font-style="italic">R</tspan><tspan font-size="31" dy="-21">2</tspan><tspan dy="21">(</tspan><tspan font-style="italic">Q</tspan><tspan font-size="32" dy="13">w</tspan><tspan dy="-13">)=0.883</tspan></text><text x="460.0" y="266.7" font-family="'Liberation Serif', 'Times New Roman', serif" font-size="50"><tspan font-style="italic">IA</tspan>(<tspan font-style="italic">Q</tspan><tspan font-size="32" dy="13">w</tspan><tspan dy="-13">)=0.969</tspan></text><text x="460.0" y="339.3" font-family="'Liberation Serif', 'Times New Roman', serif" font-size="50"><tspan font-style="italic">K</tspan>(<tspan font-style="italic">Q</tspan><tspan font-size="32" dy="13">w</tspan><tspan dy="-13">)=1.03</tspan></text><text x="460.0" y="412.0" font-family="'Liberation Serif', 'Times New Roman', serif" font-size="50"><tspan font-style="italic">RMSE</tspan>(<tspan font-style="italic">Q</tspan><tspan font-size="32" dy="13">w</tspan><tspan dy="-13">)=1.54</tspan></text><text x="874.0" y="194.0" font-family="'Liberation Serif', 'Times New Roman', serif" font-size="50"><tspan font-style="italic">R</tspan><tspan font-size="31" dy="-21">2</tspan><tspan dy="21">(</tspan><tspan font-style="italic">Q</tspan><tspan font-size="32" dy="13">g</tspan><tspan dy="-13">)=0.927</tspan></text><text x="874.0" y="266.7" font-family="'Liberation Serif', 'Times New Roman', serif" font-size="50"><tspan font-style="italic">IA</tspan>(<tspan font-style="italic">Q</tspan><tspan font-size="32" dy="13">g</tspan><tspan dy="-13">)=0.982</tspan></text><text x="874.0" y="339.3" font-family="'Liberation Serif', 'Times New Roman', serif" font-size="50"><tspan font-style="italic">K</tspan>(<tspan font-style="italic">Q</tspan><tspan font-size="32" dy="13">g</tspan><tspan dy="-13">)=0.95</tspan></text><text x="874.0" y="412.0" font-family="'Liberation Serif', 'Times New Roman', serif" font-size="50"><tspan font-style="italic">RMSE</tspan>(<tspan font-style="italic">Q</tspan><tspan font-size="32" dy="13">g</tspan><tspan dy="-13">)=0.14</tspan></text><rect x="1518" y="57" width="318" height="267" fill="#fff" stroke="#222" stroke-width="1.7"/><rect x="1568.5" y="83" width="11" height="11" fill="#0000ff"/><line x1="1524" y1="154.4" x2="1625" y2="154.4" stroke="#03d585" stroke-width="3.6" stroke-linecap="round"/><circle cx="1573.6" cy="218.8" r="6.2" fill="#ff0000"/><line x1="1524" y1="285.3" x2="1625" y2="285.3" stroke="#eadf00" stroke-width="4.4" stroke-linecap="round"/><text x="1625.0" y="103.5" font-family="'Liberation Serif', 'Times New Roman', serif" font-size="45.3">History <tspan font-style="italic">Q</tspan><tspan font-size="29" dy="12.5">w</tspan></text><text x="1636.0" y="169.0" font-family="'Liberation Serif', 'Times New Roman', serif" font-size="45.3">Fitting <tspan font-style="italic">Q</tspan><tspan font-size="29" dy="12.5">w</tspan></text><text x="1636.0" y="233.6" font-family="'Liberation Serif', 'Times New Roman', serif" font-size="45.3">History <tspan font-style="italic">Q</tspan><tspan font-size="29" dy="12.5">g</tspan></text><text x="1636.0" y="299.4" font-family="'Liberation Serif', 'Times New Roman', serif" font-size="45.3">Fitting <tspan font-style="italic">Q</tspan><tspan font-size="29" dy="12.5">g</tspan></text></svg>
</body></html>
